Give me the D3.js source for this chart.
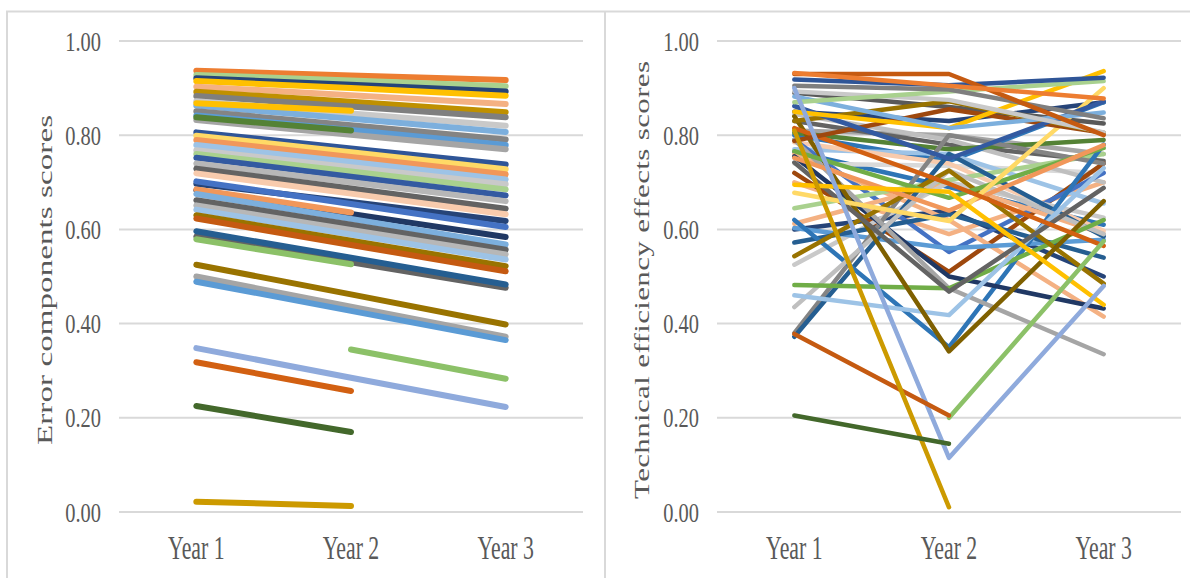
<!DOCTYPE html>
<html>
<head>
    <meta charset="UTF-8">
    <title>Error components and technical efficiency scores</title>
    <script src="https://cdn.jsdelivr.net/npm/d3@7"></script>
    <style>
        body {
            margin: 0;
            background: #fff;
        }

        .tick-label, .axis-title {
            font-family: "Liberation Serif", "Times New Roman", serif;
            fill: #595959;
        }
    </style>
</head>
<body>
<svg id="chart" width="1190" height="578"></svg>
<script>

    var years = ["Year 1", "Year 2", "Year 3"];
    var yTicks = [0, 0.2, 0.4, 0.6, 0.8, 1.0];

    // Left panel: error components scores per firm (null = no value for that year)
    var errorScores = [
        [0.937, 0.927, 0.917], [0.928, 0.916, 0.904], [0.921, 0.907, 0.893], [0.915, 0.900, 0.884],
        [0.903, 0.885, 0.866], [0.892, 0.871, 0.849], [0.883, 0.861, 0.838], [0.872, 0.846, 0.820],
        [0.863, 0.835, 0.807], [0.851, 0.821, 0.791], [0.842, 0.811, 0.779], [0.832, 0.801, 0.770],
        [0.868, 0.852, null], [0.838, 0.810, null],
        [0.806, 0.772, 0.738], [0.799, 0.764, 0.728], [0.790, 0.754, 0.717], [0.779, 0.743, 0.706],
        [0.768, 0.732, 0.696], [0.760, 0.723, 0.685], [0.752, 0.712, 0.672], [0.740, 0.700, 0.660],
        [0.729, 0.687, 0.644], [0.719, 0.676, 0.632], [0.697, 0.658, 0.618], [0.702, 0.654, 0.605],
        [0.683, 0.633, 0.584], [0.685, 0.636, null], [0.675, 0.622, 0.568], [0.662, 0.610, 0.557],
        [0.651, 0.599, 0.547], [0.642, 0.589, 0.536], [0.630, 0.576, 0.522], [0.623, 0.567, 0.511],
        [0.585, 0.530, 0.476], [0.596, 0.540, 0.483], [0.579, 0.526, null],
        [0.525, 0.462, 0.398], [0.500, 0.436, 0.372], [0.489, 0.427, 0.365],
        [0.348, 0.285, 0.223], [0.318, 0.257, null], [null, 0.345, 0.283],
        [0.225, 0.170, null], [0.022, 0.013, null]
    ];
    var errorColors = [
        "#ED7D31", "#A9D18E", "#264478", "#FFC000",
        "#F4B183", "#BF9000", "#7F7F7F", "#C9C9C9",
        "#7CAFDD", "#848484", "#5B9BD5", "#A5A5A5",
        "#FFC000", "#548235",
        "#2F5597", "#FFD966", "#F1975A", "#9DC3E6",
        "#C9C9C9", "#A9D18E", "#335AA1", "#B7B7B7",
        "#636363", "#F8CBAD", "#264478", "#4472C4",
        "#203864", "#F1975A", "#7CAFDD", "#636363",
        "#B7B7B7", "#9DC3E6", "#997300", "#C55A11",
        "#636363", "#255E91", "#8CC168",
        "#997300", "#A5A5A5", "#5B9BD5",
        "#8FAADC", "#D26012", "#8CC168",
        "#43682B", "#CC9A00"
    ];

    // Right panel: technical efficiency effects scores per firm
    var effectScores = [
        [0.810, 0.800, 0.760], [0.765, 0.690, 0.610], [0.700, 0.590, 0.700], [0.740, 0.735, 0.720],
        [0.600, 0.640, 0.500],
        [0.850, 0.830, 0.870], [0.890, 0.860, 0.825], [0.830, 0.780, 0.745], [0.845, 0.790, 0.700],
        [0.800, 0.745, 0.870], [0.805, 0.770, 0.790], [0.770, 0.760, 0.655], [0.785, 0.740, 0.597],
        [0.720, 0.510, 0.740], [0.790, 0.552, 0.720], [0.760, 0.620, 0.415], [0.612, 0.700, 0.590],
        [0.525, 0.700, 0.625], [0.603, 0.560, 0.578], [0.572, 0.632, 0.540], [0.645, 0.705, 0.760],
        [0.380, 0.800, 0.740], [0.372, 0.760, 0.585], [0.620, 0.350, 0.780], [0.755, 0.500, 0.432],
        [0.790, 0.475, 0.335], [0.435, 0.725, 0.590], [0.482, 0.475, 0.620], [0.460, 0.418, 0.730],
        [0.543, 0.725, 0.485], [0.840, 0.341, 0.660], [0.742, 0.468, 0.688], [0.766, 0.667, 0.773],
        [0.752, 0.640, 0.779], [0.678, 0.618, 0.900], [0.695, 0.680, 0.440], [0.815, 0.697, 0.565],
        [0.788, 0.855, 0.805], [0.830, 0.872, 0.805], [0.862, 0.750, 0.872], [0.850, 0.815, 0.936],
        [0.882, 0.815, 0.848], [0.893, 0.875, 0.806], [0.870, 0.893, 0.915], [0.905, 0.897, 0.836],
        [0.918, 0.906, 0.922], [0.930, 0.930, 0.800], [0.932, 0.905, 0.878],
        [0.900, 0.115, 0.480], [null, 0.200, 0.575], [0.378, 0.205, null], [0.810, 0.010, null],
        [0.205, 0.145, null]
    ];
    var effectColors = [
        "#A5A5A5", "#2E75B6", "#F4B183", "#D9D9D9",
        "#264478",
        "#264478", "#595959", "#636363", "#BFBFBF",
        "#2E75B6", "#548235", "#9DC3E6", "#F8CBAD",
        "#9E480E", "#4472C4", "#F4B183", "#F4B183",
        "#C9C9C9", "#5B9BD5", "#255E91", "#A9D18E",
        "#848484", "#255E91", "#2E75B6", "#203864",
        "#A5A5A5", "#BFBFBF", "#70AD47", "#9DC3E6",
        "#997300", "#7F6000", "#636363", "#70AD47",
        "#F1975A", "#FFD966", "#FFC000", "#D26012",
        "#9E480E", "#997300", "#335AA1", "#FFC000",
        "#7CAFDD", "#C9C9C9", "#A9D18E", "#7F7F7F",
        "#2F5597", "#C55A11", "#ED7D31",
        "#8FAADC", "#8CC168", "#C55A11", "#CC9A00",
        "#43682B"
    ];

    var svg = d3.select("#chart");

    // Frame around the two panels
    svg.append("path")
        .attr("d", "M7,578V11.5H1190M605,11.5V578")
        .attr("fill", "none")
        .attr("stroke", "#d9d9d9")
        .attr("stroke-width", 2);

    function drawPanel(opts) {
        var g = svg.append("g");

        var x = d3.scalePoint()
            .domain(years)
            .range([opts.left, opts.right])
            .padding(0.5);

        var y = d3.scaleLinear()
            .domain([0, 1])
            .range([512, 41]);

        // Gridlines
        g.selectAll(".grid")
            .data(yTicks)
            .enter().append("line")
            .attr("x1", opts.left)
            .attr("x2", opts.right)
            .attr("y1", function (d) { return y(d); })
            .attr("y2", function (d) { return y(d); })
            .attr("stroke", "#d9d9d9")
            .attr("stroke-width", 2);

        // Y tick labels (squeezed to the narrow serif of the original)
        g.selectAll(".ylab")
            .data(yTicks)
            .enter().append("text")
            .attr("class", "tick-label")
            .attr("transform", function (d) {
                return "translate(" + (opts.left - 18) + "," + (y(d) + 9.5) + ") scale(0.73,1)";
            })
            .attr("text-anchor", "end")
            .style("font-size", "28px")
            .text(d3.format(".2f"));

        // X tick labels
        g.selectAll(".xlab")
            .data(years)
            .enter().append("text")
            .attr("class", "tick-label")
            .attr("transform", function (d) {
                return "translate(" + x(d) + ",559) scale(0.66,1)";
            })
            .attr("text-anchor", "middle")
            .style("font-size", "33px")
            .text(function (d) { return d; });

        // Axis title
        g.append("text")
            .attr("class", "axis-title")
            .attr("transform", "translate(" + opts.titleX + ",280) scale(0.66,1) rotate(-90)")
            .attr("text-anchor", "middle")
            .attr("textLength", opts.titleLength)
            .attr("lengthAdjust", "spacing")
            .style("font-size", opts.titleSize + "px")
            .text(opts.title);

        var line = d3.line()
            .defined(function (d) { return d != null; })
            .x(function (d, i) { return x(years[i]); })
            .y(function (d) { return y(d); });

        g.selectAll(".series")
            .data(opts.data)
            .enter().append("path")
            .attr("d", line)
            .attr("fill", "none")
            .attr("stroke", function (d, i) { return opts.colors[i]; })
            .attr("stroke-width", opts.strokeWidth)
            .attr("stroke-linecap", "round")
            .attr("stroke-linejoin", "round");
    }

    drawPanel({
        left: 119, right: 583,
        data: errorScores, colors: errorColors, strokeWidth: 6,
        title: "Error components scores", titleX: 52, titleLength: 330, titleSize: 33
    });

    drawPanel({
        left: 717, right: 1181,
        data: effectScores, colors: effectColors, strokeWidth: 4.5,
        title: "Technical efficiency effects scores", titleX: 649, titleLength: 438, titleSize: 31
    });

</script>
</body>
</html>
